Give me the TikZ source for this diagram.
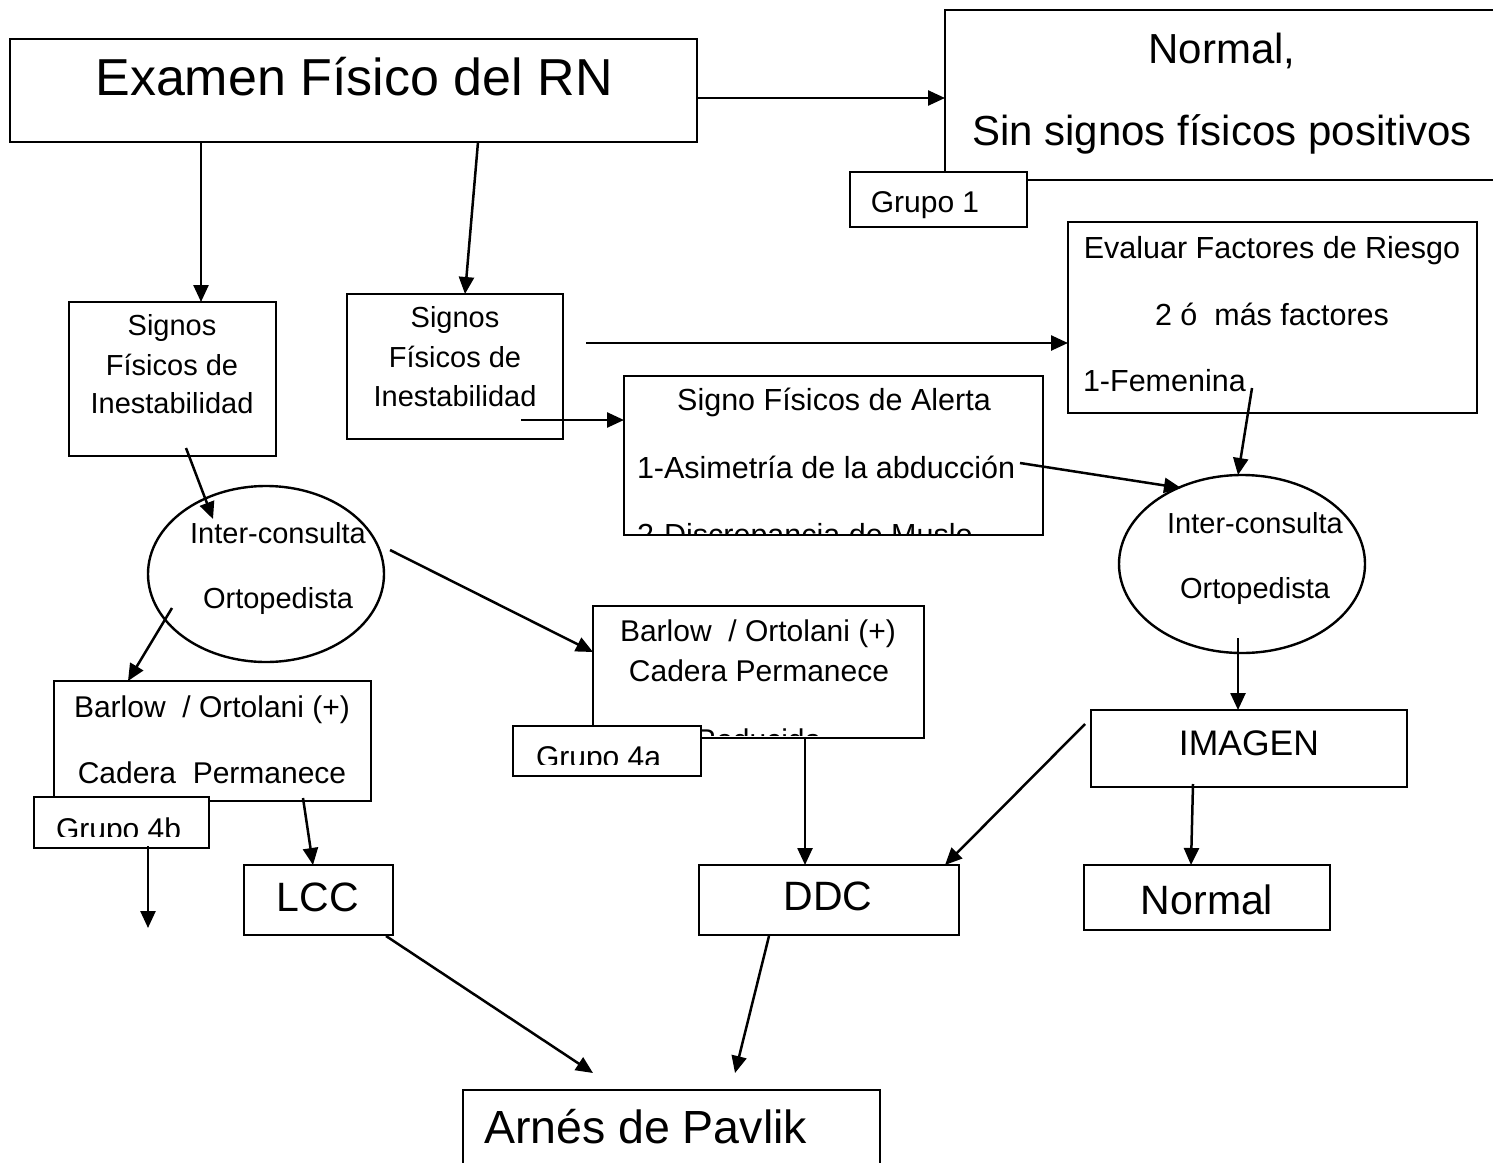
\documentclass[tikz,border=0pt]{standalone}
\usepackage{fontspec}
\setmainfont{Liberation Sans}
\usetikzlibrary{arrows.meta,shapes.geometric,calc}
\newcommand{\fsz}[1]{\fontsize{#1}{#1}\selectfont}
\begin{document}
\begin{tikzpicture}[x=1pt,y=-1pt,
  box/.style={draw,line width=2.6pt,fill=white,inner sep=0pt,outer sep=0pt,rectangle},
  oval/.style={draw,line width=2.4pt,fill=white,inner sep=0pt,outer sep=0pt,ellipse},
  arr/.style={line width=2.5pt,-{Triangle[length=17pt,width=15pt]}},
  txt/.style={anchor=base,inner sep=0pt,outer sep=0pt},
  txtw/.style={anchor=base west,inner sep=0pt,outer sep=0pt}]
\useasboundingbox (0,0) rectangle (1493,1162);
\clip (0,0) rectangle (1493,1162);
\fill[white] (0,0) rectangle (1493,1162);

% boxes
\node[box,minimum width=687pt,minimum height=103pt] (exam) at (353.5,90.5) {};
\node[box,minimum width=555pt,minimum height=170pt] (normtop) at (1222.5,95) {};
\node[box,minimum width=177pt,minimum height=55pt] (g1) at (938.5,199.5) {};
\node[box,minimum width=207pt,minimum height=154pt] (sfi1) at (172.5,379) {};
\node[box,minimum width=216pt,minimum height=145pt] (sfi2) at (455,366.5) {};
\node[box,minimum width=409pt,minimum height=191pt] (eval) at (1272.5,317.5) {};
\node[box,minimum width=419pt,minimum height=159pt] (alert) at (833.5,455.5) {};
\node[oval,minimum width=236pt,minimum height=176pt] (ell1) at (266,574) {};
\node[oval,minimum width=246pt,minimum height=178pt] (ell2) at (1242,564) {};
\node[box,minimum width=317pt,minimum height=120pt] (bar1) at (212.5,741) {};
\node[box,minimum width=175pt,minimum height=51pt] (g4b) at (121.5,822.5) {};
\node[box,minimum width=331pt,minimum height=132pt] (bar2) at (758.5,672) {};
\begin{scope}
\clip (595,608) rectangle (922,735);
\node[txt] (tred) at (758,750) {\fsz{30}Reducida};
\end{scope}
\node[box,minimum width=188pt,minimum height=50pt] (g4a) at (607,751) {};
\node[box,minimum width=149pt,minimum height=70pt] (lcc) at (318.5,900) {};
\node[box,minimum width=260pt,minimum height=70pt] (ddc) at (829,900) {};
\node[box,minimum width=316pt,minimum height=77pt] (imagen) at (1249,748.5) {};
\node[box,minimum width=246pt,minimum height=65pt] (normb) at (1207,897.5) {};
\node[box,minimum width=417pt,minimum height=85pt] (arnes) at (671.5,1132.5) {};

% texts
\node[txt] (t1) at (354,95) {\fsz{52}Examen Físico del RN};
\node[txt] (t2) at (1222,63) {\fsz{42}Normal,};
\node[txt] (t3) at (1222,145) {\fsz{42}Sin signos físicos positivos};
\node[txt] (t4) at (925,212) {\fsz{30}Grupo 1};
\node[txt] (t5) at (172,335) {\fsz{29}Signos};
\node[txt] (t6) at (172,375) {\fsz{29}Físicos de};
\node[txt] (t7) at (172,413) {\fsz{29}Inestabilidad};
\node[txt] (t8) at (455,327) {\fsz{29}Signos};
\node[txt] (t9) at (455,367) {\fsz{29}Físicos de};
\node[txt] (t10) at (455,406) {\fsz{29}Inestabilidad};
\node[txt] (t11) at (1272,258) {\fsz{30.5}Evaluar Factores de Riesgo};
\node[txt] (t12) at (1272,325) {\fsz{30.5}2 ó\ \ más factores};
\node[txtw] (t13) at (1083,391) {\fsz{30.5}1-Femenina};
\node[txt] (t14) at (834,410) {\fsz{30.5}Signo Físicos de Alerta};
\node[txtw] (t15) at (637,478) {\fsz{30.5}1-Asimetría de la abducción};
\begin{scope}
\clip (626,378) rectangle (1041,533);
\node[txtw] (t16) at (637,545) {\fsz{30.5}2-Discrepancia de Muslo};
\end{scope}
\node[txt] (t17) at (278,543) {\fsz{29}Inter-consulta};
\node[txt] (t18) at (278,608) {\fsz{29}Ortopedista};
\node[txt] (t19) at (1255,533) {\fsz{29}Inter-consulta};
\node[txt] (t20) at (1255,598) {\fsz{29}Ortopedista};
\node[txt] (t21) at (212,717) {\fsz{30}Barlow\ \ / Ortolani (+)};
\node[txt] (t22) at (212,783) {\fsz{30}Cadera\ \ Permanece};
\begin{scope}
\clip (36,799) rectangle (207,836);
\node[txtw] (t23) at (56,839) {\fsz{30}Grupo 4b};
\end{scope}
\node[txt] (t24) at (758,641) {\fsz{30}Barlow\ \ / Ortolani (+)};
\node[txt] (t25) at (759,681) {\fsz{30}Cadera Permanece};
\begin{scope}
\clip (515,728) rectangle (699,764);
\node[txtw] (t26) at (536,767) {\fsz{30}Grupo 4a};
\end{scope}
\node[txt] (t27) at (318,911) {\fsz{41}LCC};
\node[txt] (t28) at (828,910) {\fsz{41}DDC};
\node[txt] (t29) at (1249,755) {\fsz{35.5}IMAGEN};
\node[txt] (t30) at (1207,914) {\fsz{41}Normal};
\node[txtw] (t31) at (484,1143) {\fsz{46.5}Arnés de Pavlik};

% connector free ends
\coordinate (c4) at (586,343);
\coordinate (c5) at (521,420);
\coordinate (c6) at (186,448);
\coordinate (c6e) at (213,519);
\coordinate (c7) at (172,608);
\coordinate (c8) at (390,550);
\coordinate (c9) at (1020,463);
\coordinate (c10) at (1252,388);
\coordinate (c11) at (303,798);
\coordinate (c12) at (148,846);
\coordinate (c12e) at (148,928);
\coordinate (c13) at (805,738);
\coordinate (c14) at (1085,724);
\coordinate (c15) at (1238,638);
\coordinate (c16) at (1193,784);
\coordinate (c17) at (386,936);
\coordinate (c17e) at (593,1073);
\coordinate (c18) at (769,936);
\coordinate (c18e) at (735,1073);

% connectors
\draw[arr] (exam.east |- 0,98) -- (normtop.west |- 0,98);
\draw[arr] (exam.south -| 201,0) -- (sfi1.north -| 201,0);
\draw[arr] (exam.south -| 478,0) -- (sfi2.north -| 465,0);
\draw[arr] (c4) -- (eval.west |- c4);
\draw[arr] (c5) -- (alert.west |- c5);
\draw[arr] (c6) -- (c6e);
\draw[arr] (c7) -- (bar1.north -| 128,0);
\draw[arr] (c8) -- (bar2.west |- 0,652);
\draw[arr] (c9) -- ($(ell2.north)+(-61,13)$);
\draw[arr] (c10) -- (ell2.north -| 1238,0);
\draw[arr] (c11) -- (lcc.north -| 313,0);
\draw[arr] (c12) -- (c12e);
\draw[arr] (c13) -- (ddc.north -| c13);
\draw[arr] (c14) -- (ddc.north -| 945,0);
\draw[arr] (c15) -- (imagen.north -| c15);
\draw[arr] (c16) -- (normb.north -| 1191,0);
\draw[arr] (c17) -- (c17e);
\draw[arr] (c18) -- (c18e);
\end{tikzpicture}
\end{document}
